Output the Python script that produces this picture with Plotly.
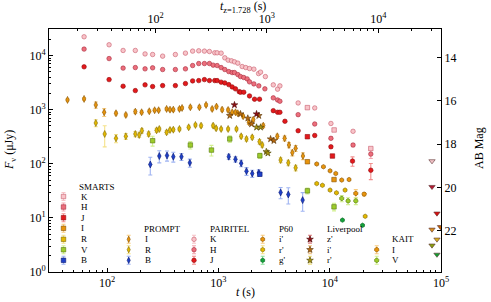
import numpy as np
import plotly.graph_objects as go

Z = 1.728
AB_ZP = 23.9  # AB magnitude of 1 microJansky

# ---------------- data (t in s, F in microJy) ----------------
# PAIRITEL
pt_K_t = [62, 104, 139, 179, 219, 256, 315, 410, 505, 586, 665, 748, 830, 926, 973, 1057,
          1140, 1222, 1310, 1393, 1492, 1633, 1760, 1901, 2081, 2293, 2390, 2640, 3110, 3400,
          3566, 5200, 7330, 10250, 16200]
pt_K_f = [22200, 15800, 12400, 12400, 10700, 10440, 9740, 10440, 11070, 12060, 12220, 12060,
          11860, 11220, 11220, 11070, 9060, 8220, 7980, 7640, 7230, 6260, 5990, 5750, 5600,
          4640, 4930, 4080, 2870, 2390, 2750, 1330, 1075, 555, 398]
pt_H_t = [62, 104, 139, 179, 219, 256, 315, 410, 505, 586, 665, 748, 830, 896, 973, 1057,
          1140, 1238, 1328, 1393, 1492, 1578, 1688, 1811, 1901, 2081, 2305, 2614, 3110, 3400,
          3566, 5200, 7330, 10250, 16200, 23400]
pt_H_f = [13140, 8790, 5850, 5990, 5670, 5920, 5510, 5510, 5670, 6530, 7110, 7110, 7110, 6640,
          6530, 5990, 5510, 5050, 4840, 4840, 4450, 4080, 3920, 3700, 3260, 2990, 2750, 2420,
          1650, 1510, 1430, 808, 543, 295, 222, 151]
pt_H_e = [0, 0, 0, 0, 0, 0, 0, 0, 0, 0, 0, 0, 0, 0, 0, 0, 0, 0, 0, 0, 0, 0, 0, 0, 0, 0, 0, 0,
          0, 0, 0, 0, 0, 15, 15, 26]
pt_J_t = [62, 104, 139, 179, 219, 256, 315, 410, 505, 586, 665, 748, 830, 926, 973, 1057,
          1140, 1238, 1328, 1422, 1537, 1578, 1688, 1901, 2110, 2339, 3110, 3400, 3566, 3958,
          5200, 7330, 10250, 16020, 23400]
pt_J_f = [6180, 3590, 2710, 2250, 2870, 2670, 2780, 2780, 3030, 3400, 3440, 3590, 3440, 3440,
          3440, 3220, 3120, 2900, 2630, 2420, 2150, 2100, 2100, 1790, 1560, 1560, 958, 895, 895,
          610, 408, 333, 206, 112, 76]
pt_J_e = [0, 0, 0, 0, 0, 0, 0, 0, 0, 0, 0, 0, 0, 0, 0, 0, 0, 0, 0, 0, 0, 0, 0, 0, 0, 0, 0, 0,
          0, 0, 0, 0, 12, 22, 25]

# SMARTS
sm_K_t = [6300, 10950, 23400]
sm_K_f = [1089, 421, 191]
sm_J_t = [6300, 10570]
sm_J_f = [316, 139]
sm_I_t = [6300, 10930]
sm_I_f = [109, 51]
sm_V_t = [256, 559, 865, 1264, 2355, 6300, 10930]
sm_V_f = [267, 222, 179, 287, 141, 31.6, 16.0]
sm_V_e = [55, 35, 40, 40, 15, 4, 2.5]
sm_B_t = [2355]
sm_B_f = [64]

# PROMPT
pr_I_t = [44, 62, 79, 94, 120, 147, 179, 204, 239, 267, 290, 342, 367, 393, 446, 471, 559, 674,
          774, 878, 960, 1079, 1222, 1328, 1422, 1492, 1667, 1874, 2055, 2527, 3380, 3934, 4300,
          4612, 4940, 5745]
pr_I_f = [1513, 1578, 1222, 895, 857, 798, 918, 895, 934, 975, 975, 1030, 1000, 1000, 1030,
          1075, 1108, 1108, 1222, 1030, 1137, 1000, 986, 895, 895, 857, 755, 584, 653, 506, 322,
          295, 222, 160, 193, 139]
pr_I_e = [70, 90, 160, 150, 60, 60, 70, 60, 60, 60, 60, 60, 60, 60, 60, 70, 70, 70, 80, 70, 70,
          70, 70, 60, 60, 60, 50, 50, 50, 40, 30, 30, 25, 20, 25, 20]
pr_R_t = [79, 95, 120, 147, 179, 194, 205, 236, 278, 294, 342, 367, 393, 446, 540, 621, 698, 896,
          953, 1057, 1222, 1452, 1600, 1786, 2012, 2339, 2475, 3620, 4244, 4940]
pr_R_f = [567, 355, 295, 322, 355, 340, 408, 355, 415, 439, 381, 421, 426, 439, 472, 521, 506,
          506, 453, 439, 439, 439, 322, 287, 308, 255, 222, 117, 104, 84]
pr_R_e = [85, 150, 50, 40, 40, 35, 40, 35, 35, 35, 30, 30, 30, 30, 30, 35, 35, 35, 30, 30, 30,
          30, 25, 25, 25, 25, 20, 12, 12, 10]
pr_B_t = [244, 294, 345, 393, 465, 553, 1238, 1422, 1600, 1786, 2012, 2305, 3620, 4244, 5710]
pr_B_f = [97, 139, 142, 135, 135, 104, 135, 121, 102, 73, 66, 68, 29.5, 27.1, 21.3]
pr_B_e = [35, 35, 30, 28, 20, 18, 15, 14, 14, 12, 10, 9, 7, 9, 8]

# P60
p60_i_t = [7640, 8780, 10070, 11330, 12820, 14920]
p60_i_f = [99, 88, 74, 66, 50, 51]
p60_r_t = [7640, 8600, 10070, 11490, 13740, 20820]
p60_r_f = [43, 40, 32.6, 29, 32.6, 10.7]
p60_g_t = [13010, 19720]
p60_g_f = [9.1, 7.3]

# Liverpool
lv_z_t = [1393, 2199]
lv_z_f = [1222, 832]
lv_i_t = [1264, 1578, 1836, 1982, 2305, 2941, 3150]
lv_i_f = [774, 832, 693, 543, 774, 287, 267]
lv_r_t = [2199, 2390, 2692, 2780]
lv_r_f = [472, 472, 167, 157]

# KAIT
ka_I_t = [17150, 20390]
ka_I_f = [28.3, 27.5]
ka_I_e = [5, 2]
ka_V_t = [12820, 14620, 17150]
ka_V_f = [22.9, 20.6, 20.6]
ka_V_e = [3, 3, 3]

# upper limits
ul_t = [83000, 83000, 92000, 99000, 83000, 92000, 83000, 92000]
ul_f = [112, 37.5, 12.1, 6.8, 6.1, 4.0, 3.1, 2.1]
ul_band = ['K', 'H', 'J', 'Ii', 'I', 'R', 'V', 'g']

# ---------------- styles ----------------
STYLE = {
    'K': dict(fill='#f8c4c9', edge='#c85a6c', err='#f6c4c8'),
    'H': dict(fill='#ec6f7c', edge='#a82a3c', err='#f3a8b0'),
    'J': dict(fill='#e3191c', edge='#920a0c', err='#f29090'),
    'I': dict(fill='#e8940c', edge='#855000', err='#f7cc80'),
    'R': dict(fill='#e3b800', edge='#7f6800', err='#f5e28a'),
    'V': dict(fill='#9ccc2a', edge='#56760e', err='#d2f090'),
    'B': dict(fill='#1e40c8', edge='#0a1870', err='#9fb4f2'),
    'z': dict(fill='#8e1216', edge='#480000', err='#e08080'),
    'Ii': dict(fill='#b8690f', edge='#563000', err='#f0c080'),
    'Rr': dict(fill='#a89512', edge='#4c4200', err='#f0e080'),
    'g': dict(fill='#14a23a', edge='#066020', err='#8ae09a'),
}
UL_COLOR = {'K': '#f3c4c8', 'H': '#b01c34', 'J': '#d81010', 'Ii': '#c06000',
            'I': '#d99020', 'R': '#d8b020', 'V': '#8aa010', 'g': '#10a030'}

FONT = 'Liberation Serif'
fig = go.Figure()


def add(t, f, band, symbol, size=4.5, err=None):
    st = STYLE[band]
    tr = go.Scatter(x=t, y=f, mode='markers', showlegend=False, hoverinfo='skip',
                    marker=dict(symbol=symbol, size=size, color=st['fill'],
                                line=dict(color=st['edge'], width=0.6)))
    if err is not None:
        tr.error_y = dict(type='data', array=err, color=st['err'], thickness=1.1, width=2)
    fig.add_trace(tr)


add(pr_R_t, pr_R_f, 'R', 'diamond-tall', 5, pr_R_e)
add(pr_I_t, pr_I_f, 'I', 'diamond-tall', 5, pr_I_e)
add(pr_B_t, pr_B_f, 'B', 'diamond-tall', 5, pr_B_e)
add(sm_V_t, sm_V_f, 'V', 'square', 4.5, sm_V_e)
add(sm_B_t, sm_B_f, 'B', 'square', 4.5)
add(sm_I_t, sm_I_f, 'I', 'square', 4.5)
add(lv_r_t, lv_r_f, 'Rr', 'star', 5)
add(lv_i_t, lv_i_f, 'Ii', 'star', 5)
add(lv_z_t, lv_z_f, 'z', 'star', 5)
add(p60_i_t, p60_i_f, 'I', 'hexagon', 4.5)
add(p60_r_t, p60_r_f, 'R', 'hexagon', 4.5)
add(p60_g_t, p60_g_f, 'g', 'hexagon', 4.5)
add(ka_I_t, ka_I_f, 'I', 'octagon', 4.5, ka_I_e)
add(ka_V_t, ka_V_f, 'V', 'octagon', 4.5, ka_V_e)
add(pt_J_t, pt_J_f, 'J', 'circle', 4.5, pt_J_e)
add(pt_H_t, pt_H_f, 'H', 'circle', 4.5, pt_H_e)
add(pt_K_t, pt_K_f, 'K', 'circle', 4.5)
add(sm_K_t, sm_K_f, 'K', 'square', 4.5)
add(sm_J_t, sm_J_f, 'J', 'square', 4.5)

fig.add_trace(go.Scatter(
    x=ul_t, y=ul_f, mode='markers', showlegend=False, hoverinfo='skip',
    marker=dict(symbol='triangle-down', size=5.5,
                color=[UL_COLOR[b] for b in ul_band],
                line=dict(color='#5a3030', width=0.6))))

# hidden trace that carries the rest-frame time / AB magnitude axes
fig.add_trace(go.Scatter(
    x=np.array(pt_K_t) / (1 + Z), y=AB_ZP - 2.5 * np.log10(pt_K_f),
    xaxis='x2', yaxis='y2', mode='markers', marker=dict(opacity=0),
    showlegend=False, hoverinfo='skip'))

# ---------------- manual legend (layout in pixel coordinates) ----------------
LEG = [
    ('SMARTS', 77, 187, 63.5, 79, 'square',
     [('K', 'K', 196.5), ('H', 'H', 207), ('J', 'J', 217.7), ('I', 'I', 228.3),
      ('R', 'R', 239.3), ('V', 'V', 249.7), ('B', 'B', 260.3)]),
    ('PROMPT', 141.7, 229, 128.7, 143.3, 'diamond-tall',
     [('I', 'I', 239.3), ('R', 'R', 249.7), ('B', 'B', 260.3)]),
    ('PAIRITEL', 208.3, 229, 194, 208.3, 'circle',
     [('K', 'K', 239.3), ('H', 'H', 249.7), ('J', 'J', 260.3)]),
    ('P60', 276.7, 229, 262.7, 276.7, 'hexagon',
     [("i'", 'I', 239.3), ("r'", 'R', 249.7), ("g'", 'g', 260.3)]),
    ('Liverpool', 325, 229, 310, 325, 'star',
     [("z'", 'z', 239.3), ("i'", 'Ii', 249.7), ("r'", 'Rr', 260.3)]),
    ('KAIT', 390, 239.3, 376.7, 390, 'octagon',
     [('I', 'I', 249.7), ('V', 'V', 260.3)]),
]
annotations = []
for head, hx, hy, mx, tx, sym, items in LEG:
    annotations.append(dict(x=hx, y=hy, xref='x3', yref='y3', text=head, showarrow=False,
                            xanchor='left', yanchor='middle',
                            font=dict(family=FONT, size=9, color='black')))
    for lab, band, yy in items:
        st = STYLE[band]
        fig.add_trace(go.Scatter(
            x=[mx], y=[yy], xaxis='x3', yaxis='y3', mode='markers', showlegend=False,
            hoverinfo='skip',
            marker=dict(symbol=sym, size=4.5 if sym != 'star' else 5, color=st['fill'],
                        line=dict(color=st['edge'], width=0.6)),
            error_y=dict(type='data', array=[4], color=st['err'], thickness=1.1, width=2)))
        annotations.append(dict(x=tx, y=yy, xref='x3', yref='y3', text=lab, showarrow=False,
                                xanchor='left', yanchor='middle',
                                font=dict(family=FONT, size=9, color='black')))

W, H = 491, 302
ML, MR, MT, MB = 49, 50, 29, 30
PW, PH = W - ML - MR, H - MT - MB


def paper(px, py):
    return (px - ML) / PW, (H - MB - py) / PH


for txt, px, py, ang in [
        ('<i>F</i><sub>ν</sub> (μJy)', 10, 150, -90),
        ('AB Mag', 479, 148, -90),
        ('<i>t</i> (s)', 245, 292, 0),
        ('<i>t</i><sub>z=1.728</sub> (s)', 243, 7, 0)]:
    xp, yp = paper(px, py)
    annotations.append(dict(x=xp, y=yp, xref='paper', yref='paper', text=txt, showarrow=False,
                            textangle=ang, xanchor='center', yanchor='middle',
                            font=dict(family=FONT, size=12, color='black')))


def sup(n):
    return '10<sup>%d</sup>' % n


def minors(lo, hi):
    return [k * 10 ** e for e in range(lo, hi) for k in range(2, 10)]


tickfont = dict(family=FONT, size=12, color='black')
common = dict(showgrid=False, zeroline=False, showline=True, linecolor='black', linewidth=1,
              ticks='inside', ticklen=4, tickcolor='black', tickfont=tickfont,
              automargin=False)

fig.update_layout(
    width=W, height=H, margin=dict(l=ML, r=MR, t=MT, b=MB, autoexpand=False),
    paper_bgcolor='white', plot_bgcolor='white', showlegend=False,
    xaxis=dict(type='log', range=[np.log10(30), 5.0],
               tickvals=[100, 1000, 10000, 100000], ticktext=[sup(2), sup(3), sup(4), sup(5)],
               minor=dict(tickvals=minors(1, 5), ticks='inside', ticklen=2, tickcolor='black'),
               **common),
    xaxis2=dict(type='log', overlaying='x', side='top', anchor='y2',
                range=[np.log10(30 / (1 + Z)), np.log10(1e5 / (1 + Z))],
                tickvals=[100, 1000, 10000], ticktext=[sup(2), sup(3), sup(4)],
                minor=dict(tickvals=minors(1, 5), ticks='inside', ticklen=2, tickcolor='black'),
                **common),
    yaxis=dict(type='log', range=[0, 4.49],
               tickvals=[1, 10, 100, 1000, 10000],
               ticktext=[sup(0), sup(1), sup(2), sup(3), sup(4)],
               minor=dict(tickvals=minors(0, 5), ticks='inside', ticklen=2, tickcolor='black'),
               **common),
    yaxis2=dict(overlaying='y', side='right', anchor='x2',
                range=[AB_ZP, AB_ZP - 2.5 * 4.49],
                tickvals=[14, 16, 18, 20, 22],
                **common),
    xaxis3=dict(overlaying='x', anchor='y3', range=[ML, W - MR], visible=False),
    yaxis3=dict(overlaying='y', anchor='x3', range=[H - MB, MT], visible=False),
    annotations=annotations,
)

fig.write_html('out.html', config={'displayModeBar': False},
               post_script="document.body.style.margin='0';document.body.style.padding='0';")
